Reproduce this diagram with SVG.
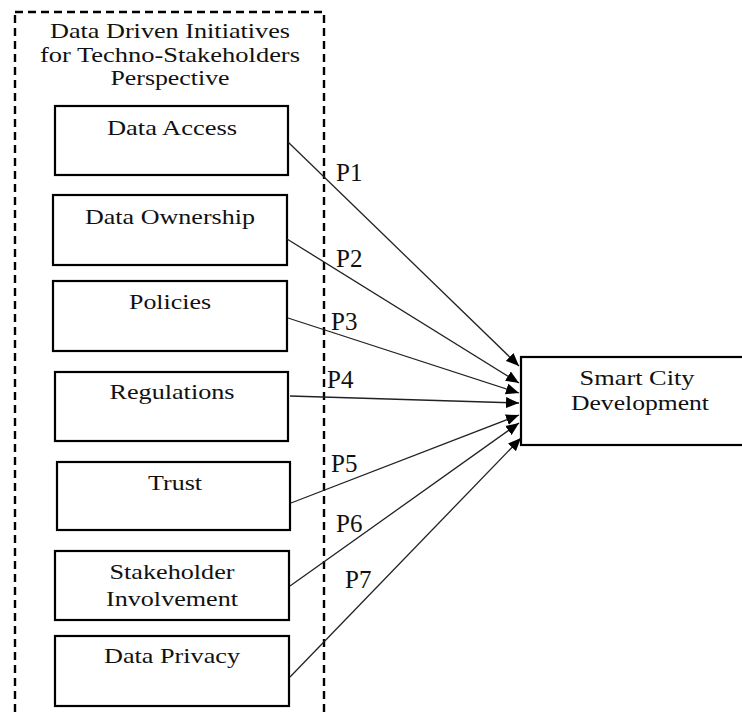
<svg xmlns="http://www.w3.org/2000/svg" width="742" height="717" viewBox="0 0 742 717">
<style>
  .box { fill: #fff; stroke: #000; stroke-width: 2.2; }
  .t { font-family: "Liberation Serif", "Times New Roman", serif; font-size: 21px; fill: #111; text-anchor: middle; }
  .p { font-family: "Liberation Serif", "Times New Roman", serif; font-size: 25px; fill: #111; }
  .c { stroke: #222; stroke-width: 1.3; fill: none; marker-end: url(#ah); }
  .frame { fill: none; stroke: #000; stroke-width: 2.4; stroke-dasharray: 8 5; }
</style>
<defs>
  <marker id="ah" markerUnits="userSpaceOnUse" markerWidth="14" markerHeight="12" refX="13" refY="5.5" orient="auto" viewBox="0 0 14 11">
    <path d="M0,0 L13,5.5 L0,11 z" fill="#000"/>
  </marker>
</defs>
<rect width="742" height="717" fill="#fff"/>

<g id="group-frame">
  <rect class="frame" x="15" y="12" width="309" height="730"/>
  <text class="t" x="170" y="38" textLength="240" lengthAdjust="spacingAndGlyphs">Data Driven Initiatives</text>
  <text class="t" x="170" y="62" textLength="260" lengthAdjust="spacingAndGlyphs">for Techno-Stakeholders</text>
  <text class="t" x="170" y="85" textLength="119" lengthAdjust="spacingAndGlyphs">Perspective</text>
</g>

<g id="node-data-access">
  <rect class="box" x="55" y="106" width="233" height="69"/>
  <text class="t" x="172" y="135" textLength="130" lengthAdjust="spacingAndGlyphs">Data Access</text>
</g>
<g id="node-data-ownership">
  <rect class="box" x="53" y="195" width="234" height="70"/>
  <text class="t" x="170" y="224" textLength="170" lengthAdjust="spacingAndGlyphs">Data Ownership</text>
</g>
<g id="node-policies">
  <rect class="box" x="53" y="281" width="234" height="70"/>
  <text class="t" x="170" y="309" textLength="82" lengthAdjust="spacingAndGlyphs">Policies</text>
</g>
<g id="node-regulations">
  <rect class="box" x="55" y="372" width="233" height="69"/>
  <text class="t" x="172" y="399" textLength="125" lengthAdjust="spacingAndGlyphs">Regulations</text>
</g>
<g id="node-trust">
  <rect class="box" x="57" y="462" width="233" height="68"/>
  <text class="t" x="175" y="490" textLength="54" lengthAdjust="spacingAndGlyphs">Trust</text>
</g>
<g id="node-stakeholder-involvement">
  <rect class="box" x="55" y="551" width="234" height="69"/>
  <text class="t" x="172" y="579" textLength="125" lengthAdjust="spacingAndGlyphs">Stakeholder</text>
  <text class="t" x="172" y="606" textLength="132" lengthAdjust="spacingAndGlyphs">Involvement</text>
</g>
<g id="node-data-privacy">
  <rect class="box" x="55" y="636" width="234" height="70"/>
  <text class="t" x="172" y="663" textLength="136" lengthAdjust="spacingAndGlyphs">Data Privacy</text>
</g>
<g id="node-smart-city">
  <rect class="box" x="521" y="357" width="240" height="88"/>
  <text class="t" x="637" y="385" textLength="115" lengthAdjust="spacingAndGlyphs">Smart City</text>
  <text class="t" x="640" y="410" textLength="138" lengthAdjust="spacingAndGlyphs">Development</text>
</g>

<g id="connectors">
  <line class="c" x1="288" y1="142" x2="519" y2="366"/>
  <line class="c" x1="287" y1="239" x2="519" y2="383"/>
  <line class="c" x1="288" y1="318" x2="519" y2="393"/>
  <line class="c" x1="290" y1="396" x2="519" y2="403"/>
  <line class="c" x1="291" y1="503" x2="519" y2="415"/>
  <line class="c" x1="290" y1="586" x2="519" y2="423"/>
  <line class="c" x1="290" y1="677" x2="521" y2="438"/>
</g>

<g id="labels">
  <text class="p" x="336" y="181">P1</text>
  <text class="p" x="336" y="267">P2</text>
  <text class="p" x="331" y="330">P3</text>
  <text class="p" x="327" y="388">P4</text>
  <text class="p" x="331" y="472">P5</text>
  <text class="p" x="336" y="532">P6</text>
  <text class="p" x="345" y="588">P7</text>
</g>
</svg>
